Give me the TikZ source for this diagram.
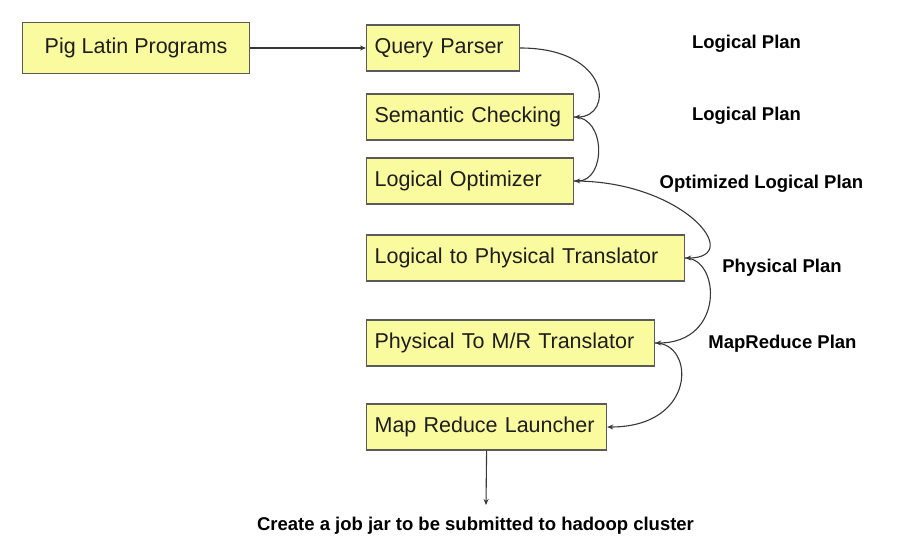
\documentclass[tikz,border=0pt]{standalone}
\usepackage{fontspec}
\setmainfont{Liberation Sans}
\usetikzlibrary{arrows.meta}
\definecolor{boxfill}{RGB}{250,250,158}
\definecolor{boxline}{RGB}{90,90,90}
\definecolor{txt}{RGB}{30,30,30}
\definecolor{arrline}{RGB}{55,55,55}
\begin{document}
\begin{tikzpicture}[x=1pt,y=-1pt,
  box/.style={draw=boxline, line width=1.2pt, fill=boxfill, text=txt,
    anchor=west, minimum height=46pt, inner xsep=8pt, inner ysep=0pt,
    font=\fontsize{21.5}{24}\selectfont, align=left},
  lbl/.style={font=\bfseries\fontsize{18.5}{20}\selectfont, text=black, inner sep=0pt},
  arr/.style={draw=arrline, line width=1.1pt, -{Stealth[length=6pt,width=5pt]}}]
\useasboundingbox (0,0) rectangle (913,554);
\node[box, minimum width=227pt, minimum height=51pt, align=center] (pig) at (22,48) {Pig Latin Programs};
\node[box, text width=137pt] (qp)  at (366,48)  {Query Parser};
\node[box, text width=191pt] (sc)  at (366,117) {Semantic Checking};
\node[box, text width=191pt] (lo)  at (366,181) {Logical Optimizer};
\node[box, text width=302pt] (lp)  at (366,258) {Logical to Physical Translator};
\node[box, text width=272pt] (pm)  at (366,343) {Physical To M/R Translator};
\node[box, text width=224pt] (mr)  at (366,427) {Map Reduce Launcher};

\node[lbl] (l1) at (746.5,44)  {Logical Plan};
\node[lbl] (l2) at (746.5,116) {Logical Plan};
\node[lbl] (l3) at (761.5,184) {Optimized Logical Plan};
\node[lbl] (l4) at (782,268)   {Physical Plan};
\node[lbl] (l5) at (782.5,344) {MapReduce Plan};

\coordinate (jarend) at (486,505);
\node[lbl] (jar) at (475.5,526) {Create a job jar to be submitted to hadoop cluster};

\draw[arr] (pig.east) -- (qp.west);
\draw[arr] (qp.east) .. controls +(90,0) and +(40,0) .. (sc.east);
\draw[arr] (sc.east) .. controls +(32,0) and +(32,0) .. (lo.east);
\draw[arr] (lo.east) .. controls +(110,0) and +(60,0) .. (lp.east);
\draw[arr] (lp.east) .. controls +(35,0) and +(70,0) .. (pm.east);
\draw[arr] (pm.east) .. controls +(40,0) and +(90,0) .. (mr.east);
\draw[arr] (mr.south) -- (jarend);
\end{tikzpicture}
\end{document}
